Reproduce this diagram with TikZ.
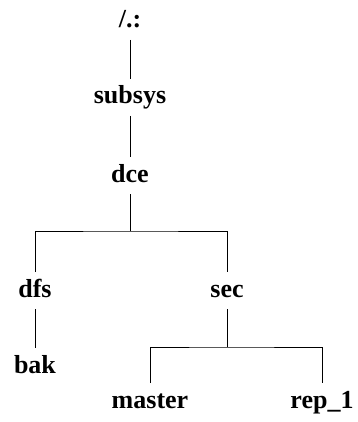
\documentclass[tikz,border=0pt]{standalone}
\usepackage{fontspec}
\setmainfont{Liberation Serif}
\begin{document}
\begin{tikzpicture}[x=1pt,y=-1pt,
  dirnode/.style={anchor=base,inner sep=0pt,outer sep=0pt,text height=25pt,text depth=12pt,font=\fontsize{26}{30}\selectfont\bfseries},
  conn/.style={line width=0.8pt,black}]
\useasboundingbox (0,0) rectangle (357,422);
\node[dirnode] (root) at (130,28) {/.:};
\node[dirnode] (subsys) at (130,104) {subsys};
\node[dirnode] (dce) at (130,182) {dce};
\node[dirnode] (dfs) at (35,297) {dfs};
\node[dirnode] (sec) at (227,297) {sec};
\node[dirnode] (bak) at (35,373) {bak};
\node[dirnode] (master) at (150,408) {master};
\node[dirnode] (rep) at (322,408) {rep\_1};
\draw[conn] (root.south) -- (subsys.north);
\draw[conn] (subsys.south) -- (dce.north);
\draw[conn] (dce.south) -- ++(0,37) coordinate (j1);
\draw[conn] (dfs.north) |- (j1) -| (sec.north);
\draw[conn] (dfs.south) -- (bak.north);
\draw[conn] (sec.south) -- ++(0,38) coordinate (j2);
\draw[conn] (master.north) |- (j2) -| (rep.north);
\end{tikzpicture}
\end{document}
